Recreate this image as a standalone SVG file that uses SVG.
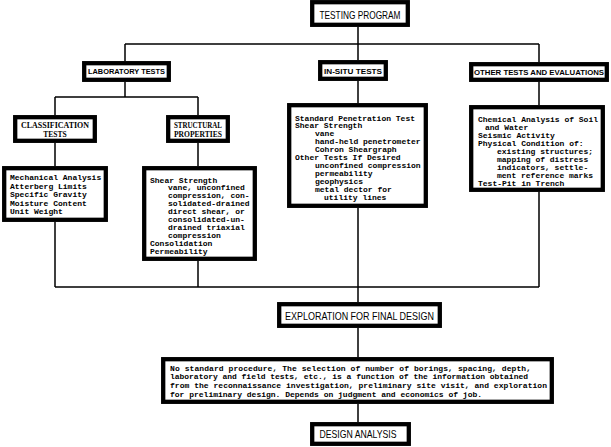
<svg xmlns="http://www.w3.org/2000/svg" width="611" height="447" viewBox="0 0 611 447">
<style>
.box{fill:#fff;stroke:#000;stroke-width:4.3}
.ln{fill:none;stroke:#000;stroke-width:1.5}
.title{font-family:"Liberation Sans Narrow","Liberation Sans",sans-serif;font-size:11px;text-anchor:middle;fill:#000}
.lab{font-family:"Liberation Sans",sans-serif;font-weight:bold;font-size:7px;text-anchor:middle;fill:#000}
.ser{font-family:"Liberation Serif",serif;font-weight:bold;font-size:7.5px;text-anchor:middle;fill:#000}
.mono{font-family:"Liberation Mono",monospace;font-weight:bold;font-size:8px;fill:#000}
</style>
<rect width="611" height="447" fill="#fff"/>
<g id="connectors">
<path class="ln" d="M358,27V44M125,44H539M125,44V61M358,44V60M539,44V62M125,82V97M55,97H198M55,97V115M198,97V115M55,143V166M198,143V166M358,81V103M539,82V105M55,222V287M198,261V287M358,208V302M539,192V287M55,287H539M358,328V357M358,404V422"/>
</g>
<g id="testing-program">
<rect class="box" x="312.2" y="2.2" width="95.6" height="22.6"/>
<text class="title" x="360" y="18.5" textLength="81" lengthAdjust="spacingAndGlyphs">TESTING  PROGRAM</text>
</g>
<g id="laboratory-tests">
<rect class="box" x="84.2" y="63.2" width="84.6" height="16.6"/>
<text class="lab" x="126.5" y="74" textLength="77" lengthAdjust="spacingAndGlyphs">LABORATORY TESTS</text>
</g>
<g id="in-situ-tests">
<rect class="box" x="320.2" y="62.2" width="65.6" height="16.6"/>
<text class="lab" x="353" y="73.5" textLength="58" lengthAdjust="spacingAndGlyphs">IN-SITU TESTS</text>
</g>
<g id="other-tests">
<rect class="box" x="471.2" y="64.2" width="135.6" height="15.6"/>
<text class="lab" x="539" y="74.5" textLength="130" lengthAdjust="spacingAndGlyphs">OTHER TESTS AND EVALUATIONS</text>
</g>
<g id="classification-tests">
<rect class="box" x="15.2" y="117.2" width="79.6" height="23.6"/>
<text class="ser" x="55" y="127.5" textLength="68" lengthAdjust="spacingAndGlyphs">CLASSIFICATION</text>
<text class="ser" x="55" y="136.5">TESTS</text>
</g>
<g id="structural-properties">
<rect class="box" x="168.2" y="117.2" width="59.6" height="23.6"/>
<text class="ser" x="198" y="127.5" textLength="48" lengthAdjust="spacingAndGlyphs">STRUCTURAL</text>
<text class="ser" x="198" y="136.5" textLength="48" lengthAdjust="spacingAndGlyphs">PROPERTIES</text>
</g>
<g id="classification-list">
<rect class="box" x="4.2" y="168.2" width="101.6" height="51.6"/>
<text class="mono" x="10" y="180">Mechanical Analysis</text>
<text class="mono" x="10" y="188.5">Atterberg Limits</text>
<text class="mono" x="10" y="197">Specific Gravity</text>
<text class="mono" x="10" y="205.5">Moisture Content</text>
<text class="mono" x="10" y="214">Unit Weight</text>
</g>
<g id="structural-list">
<rect class="box" x="144.2" y="168.2" width="110.6" height="90.6"/>
<text class="mono" x="150" y="182.5">Shear Strength</text>
<text class="mono" x="168" y="190.4">vane, unconfined</text>
<text class="mono" x="168" y="198.3">compression, con-</text>
<text class="mono" x="168" y="206.2">solidated-drained</text>
<text class="mono" x="168" y="214.1">direct shear, or</text>
<text class="mono" x="168" y="222">consolidated-un-</text>
<text class="mono" x="168" y="229.9">drained triaxial</text>
<text class="mono" x="168" y="237.8">compression</text>
<text class="mono" x="150" y="245.7">Consolidation</text>
<text class="mono" x="150" y="253.6">Permeability</text>
</g>
<g id="in-situ-list">
<rect class="box" x="289.2" y="105.2" width="136.6" height="100.6"/>
<text class="mono" x="295" y="120.5">Standard Penetration Test</text>
<text class="mono" x="295" y="128.4">Shear Strength</text>
<text class="mono" x="315" y="136.3">vane</text>
<text class="mono" x="315" y="144.2">hand-held penetrometer</text>
<text class="mono" x="315" y="152.1">Cohron Sheargraph</text>
<text class="mono" x="295" y="160">Other Tests If Desired</text>
<text class="mono" x="315" y="167.9">unconfined compression</text>
<text class="mono" x="315" y="175.8">permeability</text>
<text class="mono" x="315" y="183.7">geophysics</text>
<text class="mono" x="315" y="191.6">metal dector for</text>
<text class="mono" x="324" y="199.5">utility lines</text>
</g>
<g id="other-list">
<rect class="box" x="471.2" y="107.2" width="131.6" height="82.6"/>
<text class="mono" x="478" y="121.5">Chemical Analysis of Soil</text>
<text class="mono" x="485" y="129.5">and Water</text>
<text class="mono" x="478" y="137.5">Seismic Activity</text>
<text class="mono" x="478" y="145.5">Physical Condition of:</text>
<text class="mono" x="497" y="153.5">existing structures;</text>
<text class="mono" x="497" y="161.5">mapping of distress</text>
<text class="mono" x="497" y="169.5">indicators, settle-</text>
<text class="mono" x="497" y="177.5">ment reference marks</text>
<text class="mono" x="478" y="185.5">Test-Pit in Trench</text>
</g>
<g id="exploration">
<rect class="box" x="279.2" y="304.2" width="160.6" height="21.6"/>
<text class="title" x="359.5" y="319.5" textLength="149" lengthAdjust="spacingAndGlyphs">EXPLORATION  FOR  FINAL  DESIGN</text>
</g>
<g id="procedure">
<rect class="box" x="163.2" y="359.2" width="388.6" height="42.6"/>
<text class="mono" x="170" y="370.5" font-size="7.8" textLength="361" lengthAdjust="spacing">No standard procedure,  The selection of number of borings, spacing, depth,</text>
<text class="mono" x="170" y="379.2" font-size="7.8" textLength="358" lengthAdjust="spacing">laboratory and field tests, etc., is a function of the information obtained</text>
<text class="mono" x="170" y="387.9" font-size="7.8" textLength="377" lengthAdjust="spacing">from the reconnaissance investigation, preliminary site visit, and exploration</text>
<text class="mono" x="170" y="396.6" font-size="7.8">for preliminary design.  Depends on judgment and economics of job.</text>
</g>
<g id="design-analysis">
<rect class="box" x="312.2" y="424.2" width="96.6" height="19.6"/>
<text class="title" x="358" y="437.5" textLength="77" lengthAdjust="spacingAndGlyphs">DESIGN  ANALYSIS</text>
</g>
</svg>
